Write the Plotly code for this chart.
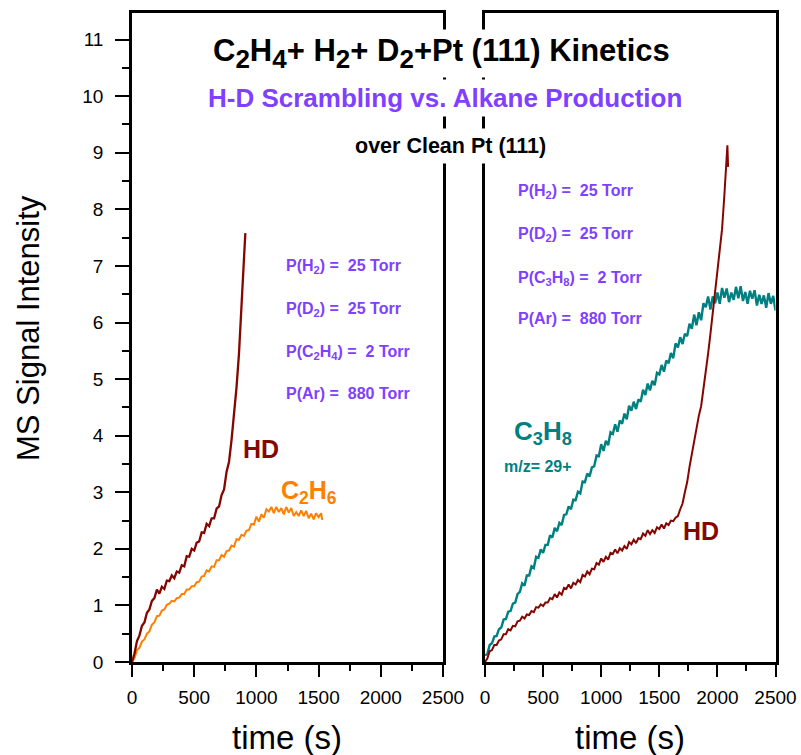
import plotly.graph_objects as go

W, H = 801, 755
FONT = "Arial, Liberation Sans, sans-serif"

HD_COLOR = "#840600"
C2H6_COLOR = "#ff8000"
C3H8_COLOR = "#008080"
PURPLE = "#8040ff"

# ---- left panel: C2H4 + H2 + D2 over Pt(111) ----
hd_left_t = [0, 20, 40, 60, 80, 100, 120, 140, 160, 180, 200, 220, 240, 260, 280,
             300, 320, 340, 360, 380, 400, 420, 440, 460, 480, 500, 520, 540, 560,
             580, 600, 620, 640, 660, 680, 700, 720, 740, 760, 780, 800, 820, 840,
             860, 880, 900, 911]
hd_left_v = [0.00, 0.15, 0.37, 0.47, 0.64, 0.70, 0.87, 0.93, 1.08, 1.13, 1.28, 1.21,
             1.33, 1.29, 1.44, 1.43, 1.53, 1.48, 1.60, 1.58, 1.71, 1.69, 1.87, 1.86,
             2.00, 1.97, 2.11, 2.13, 2.29, 2.28, 2.44, 2.40, 2.54, 2.54, 2.71, 2.75,
             2.95, 3.05, 3.36, 3.54, 3.92, 4.38, 4.85, 5.45, 6.20, 7.00, 7.58]

c2h6_t = [0, 20, 40, 60, 80, 100, 120, 140, 160, 180, 200, 220, 240, 260, 280, 300,
          320, 340, 360, 380, 400, 420, 440, 460, 480, 500, 520, 540, 560, 580, 600,
          620, 640, 660, 680, 700, 720, 740, 760, 780, 800, 820, 840, 860, 880, 900,
          920, 940, 960, 980, 1000, 1020, 1040, 1060, 1080, 1100, 1120, 1140, 1160,
          1180, 1200, 1220, 1240, 1260, 1280, 1300, 1320, 1340, 1360, 1380, 1400,
          1420, 1440, 1460, 1480, 1500, 1520, 1530]
c2h6_v = [0.00, 0.07, 0.21, 0.25, 0.36, 0.40, 0.50, 0.54, 0.66, 0.70, 0.81, 0.82,
          0.91, 0.93, 1.01, 1.03, 1.08, 1.07, 1.13, 1.14, 1.20, 1.20, 1.28, 1.28,
          1.34, 1.34, 1.41, 1.42, 1.51, 1.52, 1.62, 1.60, 1.69, 1.68, 1.80, 1.80,
          1.89, 1.86, 1.96, 1.97, 2.06, 2.04, 2.17, 2.16, 2.25, 2.23, 2.32, 2.33,
          2.44, 2.43, 2.57, 2.48, 2.61, 2.55, 2.70, 2.66, 2.74, 2.63, 2.74, 2.65,
          2.72, 2.61, 2.74, 2.64, 2.72, 2.58, 2.65, 2.58, 2.68, 2.58, 2.67, 2.54,
          2.62, 2.52, 2.63, 2.56, 2.63, 2.51]

# ---- right panel: C3H8 + H2 + D2 over Pt(111) ----
c3h8_t = [0, 20, 40, 60, 80, 100, 120, 140, 160, 180, 200, 220, 240, 260, 280, 300,
          320, 340, 360, 380, 400, 420, 440, 460, 480, 500, 520, 540, 560, 580, 600,
          620, 640, 660, 680, 700, 720, 740, 760, 780, 800, 820, 840, 860, 880, 900,
          920, 940, 960, 980, 1000, 1020, 1040, 1060, 1080, 1100, 1120, 1140, 1160,
          1180, 1200, 1220, 1240, 1260, 1280, 1300, 1320, 1340, 1360, 1380, 1400,
          1420, 1440, 1460, 1480, 1500, 1520, 1540, 1560, 1580, 1600, 1620, 1640,
          1660, 1680, 1700, 1720, 1740, 1760, 1780, 1800, 1820, 1840, 1860, 1880,
          1900, 1920, 1940, 1960, 1980, 2000, 2020, 2040, 2060, 2080, 2100, 2120,
          2140, 2160, 2180, 2200, 2220, 2240, 2260, 2280, 2300, 2320, 2340, 2360,
          2380, 2400, 2420, 2440, 2460, 2480, 2500]
c3h8_v = [0.12, 0.14, 0.30, 0.33, 0.45, 0.46, 0.58, 0.61, 0.75, 0.76, 0.89, 0.90,
          1.03, 1.05, 1.20, 1.24, 1.39, 1.35, 1.53, 1.53, 1.69, 1.66, 1.86, 1.84,
          1.99, 1.93, 2.07, 2.07, 2.24, 2.20, 2.37, 2.31, 2.46, 2.42, 2.60, 2.61,
          2.75, 2.70, 2.87, 2.86, 3.01, 2.98, 3.19, 3.18, 3.33, 3.28, 3.44, 3.46,
          3.65, 3.64, 3.85, 3.73, 3.91, 3.83, 4.06, 4.03, 4.20, 4.07, 4.27, 4.21,
          4.39, 4.29, 4.53, 4.44, 4.60, 4.47, 4.64, 4.60, 4.81, 4.72, 4.92, 4.80,
          4.97, 4.89, 5.11, 5.08, 5.25, 5.13, 5.33, 5.28, 5.46, 5.37, 5.63, 5.56,
          5.74, 5.62, 5.80, 5.76, 5.98, 5.89, 6.14, 5.95, 6.18, 6.04, 6.34, 6.27,
          6.46, 6.23, 6.46, 6.34, 6.53, 6.33, 6.61, 6.44, 6.60, 6.36, 6.53, 6.40,
          6.63, 6.43, 6.64, 6.38, 6.54, 6.33, 6.56, 6.42, 6.57, 6.30, 6.49, 6.33,
          6.48, 6.26, 6.52, 6.33, 6.47, 6.21]

hd_right_t = [0, 20, 40, 60, 80, 100, 120, 140, 160, 180, 200, 220, 240, 260, 280,
              300, 320, 340, 360, 380, 400, 420, 440, 460, 480, 500, 520, 540, 560,
              580, 600, 620, 640, 660, 680, 700, 720, 740, 760, 780, 800, 820, 840,
              860, 880, 900, 920, 940, 960, 980, 1000, 1020, 1040, 1060, 1080, 1100,
              1120, 1140, 1160, 1180, 1200, 1220, 1240, 1260, 1280, 1300, 1320, 1340,
              1360, 1380, 1400, 1420, 1440, 1460, 1480, 1500, 1520, 1540, 1560, 1580,
              1600, 1620, 1640, 1660, 1680, 1700, 1720, 1740, 1760, 1780, 1800, 1820,
              1840, 1860, 1880, 1900, 1920, 1940, 1960, 1980, 2000, 2020, 2040, 2060,
              2075, 2086, 2092]
hd_right_v = [0.00, 0.06, 0.19, 0.21, 0.30, 0.30, 0.38, 0.40, 0.49, 0.49, 0.58, 0.56,
              0.64, 0.63, 0.72, 0.73, 0.80, 0.77, 0.84, 0.83, 0.90, 0.88, 0.97, 0.96,
              1.02, 0.99, 1.05, 1.05, 1.13, 1.11, 1.20, 1.14, 1.23, 1.19, 1.31, 1.29,
              1.37, 1.30, 1.40, 1.37, 1.45, 1.41, 1.54, 1.51, 1.60, 1.55, 1.65, 1.64,
              1.75, 1.72, 1.83, 1.77, 1.86, 1.81, 1.93, 1.91, 1.99, 1.92, 2.01, 1.97,
              2.05, 2.00, 2.12, 2.08, 2.16, 2.10, 2.19, 2.17, 2.27, 2.23, 2.33, 2.26,
              2.33, 2.28, 2.38, 2.35, 2.43, 2.36, 2.45, 2.42, 2.50, 2.49, 2.55, 2.58,
              2.70, 2.80, 3.00, 3.18, 3.45, 3.68, 3.95, 4.18, 4.35, 4.52, 4.82, 5.10,
              5.45, 5.80, 6.15, 6.50, 6.85, 7.20, 7.65, 8.25, 8.70, 9.13, 8.75]

x_ticks = [0, 500, 1000, 1500, 2000, 2500]
y_ticks = [0, 1, 2, 3, 4, 5, 6, 7, 8, 9, 10, 11]
X_RANGE = [0, 2500]
Y_RANGE = [0, 11.47]


def px(x):
    return x / W


def py(y):
    return 1 - y / H


fig = go.Figure()
fig.add_trace(go.Scatter(x=c2h6_t, y=c2h6_v, mode="lines",
                         line=dict(color=C2H6_COLOR, width=2.0), xaxis="x", yaxis="y"))
fig.add_trace(go.Scatter(x=hd_left_t, y=hd_left_v, mode="lines",
                         line=dict(color=HD_COLOR, width=2.3), xaxis="x", yaxis="y"))
fig.add_trace(go.Scatter(x=c3h8_t, y=c3h8_v, mode="lines",
                         line=dict(color=C3H8_COLOR, width=2.4), xaxis="x2", yaxis="y2"))
fig.add_trace(go.Scatter(x=hd_right_t, y=hd_right_v, mode="lines",
                         line=dict(color=HD_COLOR, width=2.0), xaxis="x2", yaxis="y2"))

tickfont = dict(family=FONT, size=19, color="black")
xaxis_style = dict(
    range=X_RANGE, tickvals=x_ticks, showline=True, linecolor="black", linewidth=2.5,
    mirror=True, ticks="outside", ticklen=12, tickwidth=2, tickcolor="black",
    minor=dict(dtick=250, tick0=0, ticks="outside", ticklen=6, tickwidth=2,
               tickcolor="black"),
    showgrid=False, zeroline=False, tickfont=tickfont, ticklabelstandoff=4,
    automargin=False,
)
y_domain = [py(662), py(13)]

fig.update_layout(
    width=W, height=H,
    margin=dict(l=0, r=0, t=0, b=0, pad=0),
    paper_bgcolor="white", plot_bgcolor="white",
    showlegend=False,
    xaxis=dict(domain=[px(132), px(443)], anchor="y", **xaxis_style),
    xaxis2=dict(domain=[px(485), px(775.5)], anchor="y2", **xaxis_style),
    yaxis=dict(
        domain=y_domain, range=Y_RANGE, tickvals=y_ticks, anchor="x",
        showline=True, linecolor="black", linewidth=2.5, mirror=True,
        ticks="outside", ticklen=14, tickwidth=2, tickcolor="black",
        minor=dict(dtick=0.5, tick0=0, ticks="outside", ticklen=7, tickwidth=2,
                   tickcolor="black"),
        showgrid=False, zeroline=False, tickfont=tickfont, ticklabelstandoff=8,
        automargin=False,
    ),
    yaxis2=dict(
        domain=y_domain, range=Y_RANGE, anchor="x2",
        showline=True, linecolor="black", linewidth=2.5, mirror=True,
        ticks="", showticklabels=False, showgrid=False, zeroline=False,
        automargin=False,
    ),
)

annotations = []


def note(text, x, y, size, color="black", bold=True, xanchor="center", bg=None,
         angle=0, pad=1):
    if bold:
        text = "<b>" + text + "</b>"
    a = dict(text=text, x=px(x), y=py(y), xref="paper", yref="paper",
             xanchor=xanchor, yanchor="middle", showarrow=False, textangle=angle,
             font=dict(family=FONT, size=size, color=color), borderpad=pad)
    if bg:
        a["bgcolor"] = bg
    annotations.append(a)


def big_sub(d):
    return "<sub><span style='font-size:26px'>" + d + "</span></sub>"


# titles
note("C" + big_sub("2") + "H" + big_sub("4") + "+ H" + big_sub("2") + "+ D"
     + big_sub("2") + "+Pt (111) Kinetics", 441, 54, 31, bg="white", pad=3)
note("H-D Scrambling vs. Alkane Production", 445, 98, 26, color=PURPLE, bg="white", pad=3)
note("over Clean Pt (111)", 450, 146, 21.5, bg="white", pad=5)

# axis titles
note("MS Signal Intensity", 28, 328, 31, bold=False, angle=-90)
note("time (s)", 287, 737, 33, bold=False)
note("time (s)", 630, 737, 33, bold=False)

# reaction conditions
sp = "\u00a0"
left_conditions = [
    ("P(H<sub>2</sub>) =" + sp * 2 + "25 Torr", 266),
    ("P(D<sub>2</sub>) =" + sp * 2 + "25 Torr", 309),
    ("P(C<sub>2</sub>H<sub>4</sub>) =" + sp * 2 + "2 Torr", 352),
    ("P(Ar) =" + sp * 2 + "880 Torr", 393),
]
right_conditions = [
    ("P(H<sub>2</sub>) =" + sp * 2 + "25 Torr", 191),
    ("P(D<sub>2</sub>) =" + sp * 2 + "25 Torr", 234),
    ("P(C<sub>3</sub>H<sub>8</sub>) =" + sp * 2 + "2 Torr", 278),
    ("P(Ar) =" + sp * 2 + "880 Torr", 318),
]
for txt, y in left_conditions:
    note(txt, 284, y, 16, color=PURPLE, xanchor="left")
for txt, y in right_conditions:
    note(txt, 516, y, 16, color=PURPLE, xanchor="left")

# curve labels
note("HD", 261, 449, 25, color=HD_COLOR)
note("C<sub>2</sub>H<sub>6</sub>", 309, 492, 25, color=C2H6_COLOR)
note("C<sub>3</sub>H<sub>8</sub>", 543, 433, 26, color=C3H8_COLOR)
note("m/z= 29+", 538, 466, 16, color=C3H8_COLOR)
note("HD", 701, 531, 25, color=HD_COLOR)

fig.update_layout(annotations=annotations)

fig.write_html("out.html")
